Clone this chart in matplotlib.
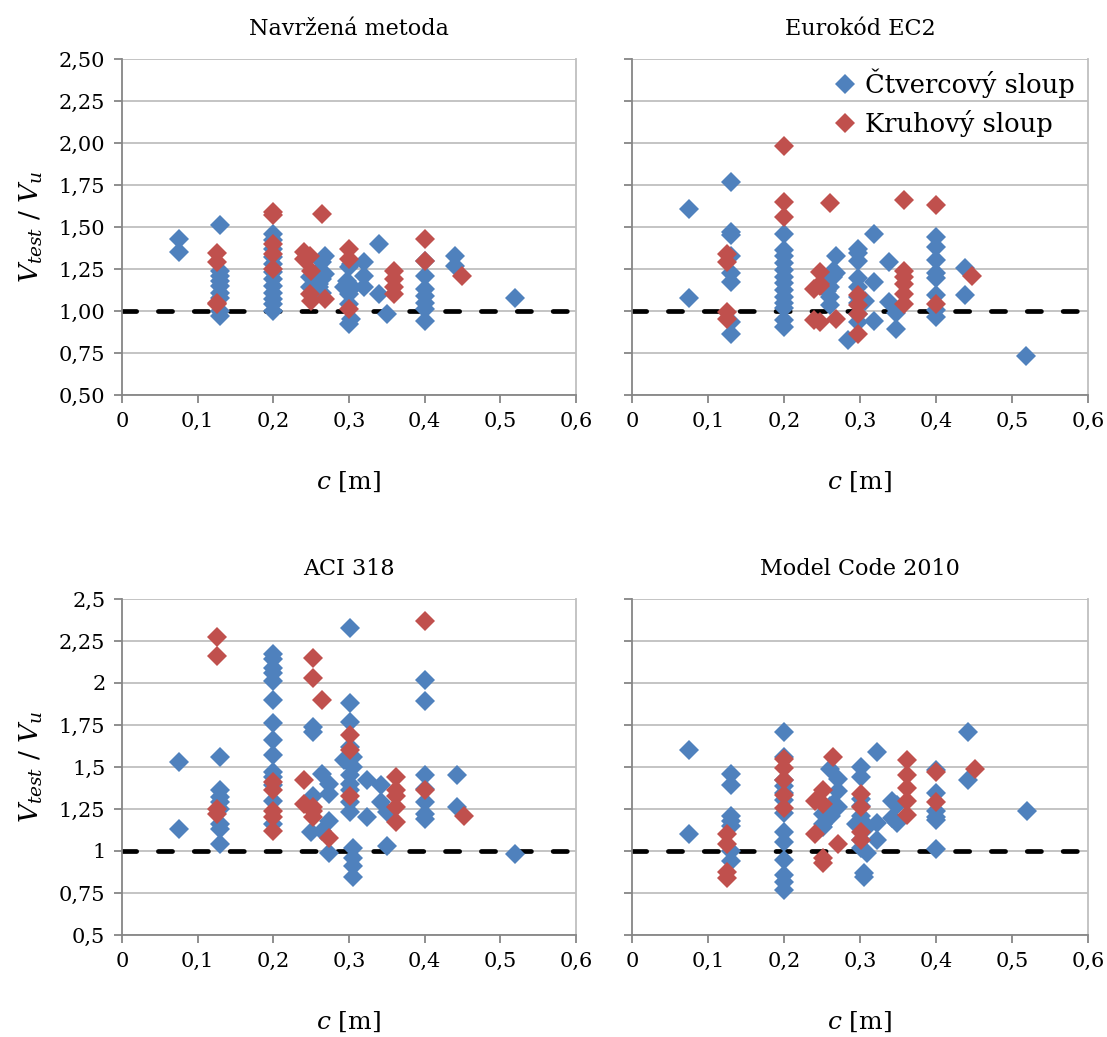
import numpy as np
import matplotlib.pyplot as plt
from matplotlib.ticker import FixedLocator, FuncFormatter

plt.rcParams['font.family'] = ['DejaVu Serif']
plt.rcParams['mathtext.fontset'] = 'dejavuserif'

titles = ['Navržená metoda', 'Eurokód EC2', 'ACI 318', 'Model Code 2010']
legend_labels = ['Čtvercový sloup', 'Kruhový sloup']

# (c [m], Vtest/Vu) - ctvercove sloupy (blue), kruhove sloupy (red)
sq_navr = [(0.075, 1.43), (0.075, 1.35),
           (0.13, 1.51), (0.13, 1.24), (0.13, 1.21), (0.13, 1.18), (0.13, 1.15), (0.13, 1.11),
           (0.13, 1.08), (0.13, 1.00), (0.13, 0.97),
           (0.2, 1.46), (0.2, 1.42), (0.2, 1.37), (0.2, 1.32), (0.2, 1.28), (0.2, 1.23),
           (0.2, 1.19), (0.2, 1.15), (0.2, 1.11), (0.2, 1.07), (0.2, 1.04), (0.2, 1.00),
           (0.248, 1.20), (0.248, 1.14), (0.26, 1.24), (0.26, 1.14), (0.26, 1.16),
           (0.264, 1.29), (0.264, 1.11), (0.265, 1.19), (0.268, 1.33), (0.268, 1.22),
           (0.294, 1.14), (0.298, 1.18), (0.3, 1.26), (0.3, 1.10), (0.3, 1.04), (0.3, 1.16),
           (0.3, 1.12), (0.3, 0.92), (0.303, 0.95), (0.303, 1.28),
           (0.32, 1.29), (0.32, 1.21), (0.32, 1.14), (0.34, 1.40), (0.34, 1.10), (0.35, 0.98),
           (0.4, 1.30), (0.4, 1.21), (0.4, 1.13), (0.4, 1.09), (0.4, 1.05), (0.4, 1.01), (0.4, 0.94),
           (0.44, 1.33), (0.44, 1.27), (0.52, 1.08)]
kr_navr = [(0.125, 1.345), (0.125, 1.29), (0.125, 1.05), (0.125, 1.04),
           (0.2, 1.59), (0.2, 1.57), (0.2, 1.40), (0.2, 1.34), (0.2, 1.25),
           (0.24, 1.35), (0.24, 1.31), (0.248, 1.33), (0.248, 1.10), (0.25, 1.24), (0.25, 1.06),
           (0.264, 1.58), (0.268, 1.07), (0.3, 1.37), (0.3, 1.31), (0.3, 1.01),
           (0.36, 1.24), (0.36, 1.19), (0.36, 1.14), (0.36, 1.10),
           (0.4, 1.43), (0.4, 1.30), (0.45, 1.21)]

sq_ec2 = [(0.075, 1.61), (0.075, 1.08),
          (0.13, 1.77), (0.13, 1.47), (0.13, 1.45), (0.13, 1.33), (0.13, 1.225), (0.13, 1.175),
          (0.13, 0.935), (0.13, 0.865),
          (0.2, 1.46), (0.2, 1.365), (0.2, 1.325), (0.2, 1.285), (0.2, 1.245), (0.2, 1.205),
          (0.2, 1.165), (0.2, 1.125), (0.2, 1.085), (0.2, 1.045), (0.2, 1.015), (0.2, 0.945),
          (0.2, 0.905),
          (0.257, 1.12), (0.257, 1.195), (0.26, 1.145), (0.26, 1.085), (0.26, 1.035),
          (0.265, 1.24), (0.265, 1.20), (0.269, 1.33), (0.269, 1.225), (0.284, 0.83),
          (0.298, 1.37), (0.298, 1.345), (0.298, 1.295), (0.298, 1.195), (0.298, 1.145),
          (0.298, 1.085), (0.298, 1.045), (0.298, 0.985), (0.298, 0.935), (0.306, 1.06),
          (0.318, 1.46), (0.318, 1.17), (0.318, 0.94), (0.338, 1.29), (0.338, 1.056),
          (0.348, 0.99), (0.348, 0.89),
          (0.4, 1.44), (0.4, 1.38), (0.4, 1.305), (0.4, 1.225), (0.4, 1.195), (0.4, 1.095),
          (0.4, 1.005), (0.4, 0.965), (0.438, 1.255), (0.438, 1.095), (0.518, 0.73)]
kr_ec2 = [(0.125, 1.34), (0.125, 1.29), (0.125, 0.995), (0.125, 0.955),
          (0.2, 1.98), (0.2, 1.65), (0.2, 1.56),
          (0.239, 1.13), (0.239, 0.944), (0.247, 1.23), (0.247, 1.15), (0.248, 0.934),
          (0.248, 1.16), (0.261, 1.64), (0.269, 0.954),
          (0.298, 1.093), (0.298, 1.034), (0.298, 0.984), (0.298, 0.865),
          (0.358, 1.66), (0.358, 1.24), (0.358, 1.20), (0.358, 1.16), (0.358, 1.10), (0.358, 1.04),
          (0.4, 1.63), (0.4, 1.04), (0.448, 1.21)]

sq_aci = [(0.075, 1.53), (0.075, 1.13),
          (0.13, 1.56), (0.13, 1.36), (0.13, 1.32), (0.13, 1.29), (0.13, 1.25), (0.13, 1.16),
          (0.13, 1.13), (0.13, 1.04),
          (0.2, 2.17), (0.2, 2.14), (0.2, 2.09), (0.2, 2.06), (0.2, 2.01), (0.2, 1.90),
          (0.2, 1.76), (0.2, 1.66), (0.2, 1.57), (0.2, 1.47), (0.2, 1.44), (0.2, 1.39),
          (0.2, 1.30), (0.2, 1.16),
          (0.25, 1.11), (0.252, 1.74), (0.252, 1.71), (0.252, 1.33), (0.264, 1.46), (0.264, 1.12),
          (0.273, 1.40), (0.273, 1.34), (0.273, 1.18), (0.273, 0.99), (0.293, 1.54),
          (0.301, 2.33), (0.301, 1.88), (0.301, 1.77), (0.301, 1.62), (0.301, 1.45),
          (0.301, 1.40), (0.301, 1.36), (0.301, 1.29), (0.301, 1.23),
          (0.305, 1.56), (0.305, 1.50), (0.305, 1.02), (0.305, 0.96), (0.305, 0.91), (0.305, 0.845),
          (0.3235, 1.42), (0.3235, 1.20), (0.342, 1.39), (0.342, 1.29), (0.35, 1.23), (0.35, 1.03),
          (0.4, 2.02), (0.4, 1.89), (0.4, 1.45), (0.4, 1.37), (0.4, 1.29), (0.4, 1.22), (0.4, 1.19),
          (0.4425, 1.45), (0.4425, 1.26), (0.52, 0.98)]
kr_aci = [(0.126, 2.275), (0.126, 2.16), (0.126, 1.25), (0.126, 1.22),
          (0.2, 1.41), (0.2, 1.36), (0.2, 1.24), (0.2, 1.20), (0.2, 1.12),
          (0.24, 1.42), (0.24, 1.28), (0.252, 2.15), (0.252, 2.03), (0.252, 1.24), (0.252, 1.20),
          (0.252, 1.26), (0.264, 1.90), (0.273, 1.08),
          (0.301, 1.69), (0.301, 1.60), (0.301, 1.33),
          (0.362, 1.44), (0.362, 1.36), (0.362, 1.33), (0.362, 1.26), (0.362, 1.17),
          (0.4, 2.37), (0.4, 1.36), (0.452, 1.21)]

sq_mc = [(0.075, 1.60), (0.075, 1.10),
         (0.13, 1.46), (0.13, 1.39), (0.13, 1.21), (0.13, 1.18), (0.13, 1.15), (0.13, 1.00),
         (0.13, 0.94),
         (0.2, 1.71), (0.2, 1.56), (0.2, 1.42), (0.2, 1.385), (0.2, 1.345), (0.2, 1.305),
         (0.2, 1.225), (0.2, 1.115), (0.2, 1.055), (0.2, 0.945), (0.2, 0.855), (0.2, 0.815),
         (0.2, 0.765),
         (0.252, 1.22), (0.252, 1.16), (0.252, 1.14), (0.26, 1.49), (0.26, 1.265), (0.262, 1.21),
         (0.265, 1.28), (0.2715, 1.43), (0.2715, 1.355), (0.2715, 1.26), (0.295, 1.16),
         (0.302, 1.50), (0.302, 1.44), (0.302, 1.31), (0.302, 1.21), (0.302, 1.265),
         (0.302, 1.185), (0.302, 1.145), (0.302, 1.065), (0.302, 1.015),
         (0.305, 0.87), (0.305, 0.845), (0.309, 1.14), (0.309, 0.99),
         (0.322, 1.59), (0.322, 1.165), (0.322, 1.065), (0.342, 1.30), (0.342, 1.195),
         (0.349, 1.275), (0.349, 1.165),
         (0.4, 1.48), (0.4, 1.345), (0.4, 1.235), (0.4, 1.205), (0.4, 1.185), (0.4, 1.01),
         (0.442, 1.71), (0.442, 1.42), (0.52, 1.24)]
kr_mc = [(0.125, 1.10), (0.125, 1.04), (0.125, 0.877), (0.125, 0.837),
         (0.2, 1.545), (0.2, 1.495), (0.2, 1.425), (0.2, 1.335), (0.2, 1.255),
         (0.241, 1.30), (0.241, 1.10), (0.252, 1.36), (0.252, 1.28), (0.252, 0.96), (0.252, 0.93),
         (0.265, 1.56), (0.2715, 1.044),
         (0.302, 1.34), (0.302, 1.26), (0.302, 1.11), (0.302, 1.064),
         (0.3615, 1.54), (0.3615, 1.45), (0.3615, 1.375), (0.3615, 1.295), (0.3615, 1.215),
         (0.4, 1.47), (0.4, 1.29), (0.452, 1.49)]

square_sets = [sq_navr, sq_ec2, sq_aci, sq_mc]
round_sets = [kr_navr, kr_ec2, kr_aci, kr_mc]

blue = '#4F81BD'
red = '#C0504D'
grid_c = '#BFBFBF'
axis_c = '#868686'

fig = plt.figure(figsize=(11.07, 10.37), dpi=100)
positions = [(0.1102, 0.6191, 0.4101, 0.324), (0.5709, 0.6191, 0.4119, 0.324),
             (0.1102, 0.0984, 0.4101, 0.324), (0.5709, 0.0984, 0.4119, 0.324)]


def fmt_comma(decimals):
    def f(v, pos):
        s = ('%.' + str(decimals) + 'f') % v
        return s.replace('.', ',')
    return f


def fmt_short(v, pos):
    s = ('%.2f' % v).rstrip('0').rstrip('.')
    return s.replace('.', ',')


for i in range(4):
    ax = fig.add_axes(positions[i])
    sq = np.array(square_sets[i])
    kr = np.array(round_sets[i])
    ax.plot([0, 0.6], [1, 1], color='black', lw=3.4, dashes=(3.0, 4.6),
            dash_capstyle='round', zorder=2)
    ax.plot(sq[:, 0], sq[:, 1], 'D', color=blue, ms=10, mew=0, label=legend_labels[0], zorder=3)
    ax.plot(kr[:, 0], kr[:, 1], 'D', color=red, ms=10, mew=0, label=legend_labels[1], zorder=4)

    ax.set_xlim(0, 0.6)
    ax.set_ylim(0.5, 2.5)
    ax.xaxis.set_major_locator(FixedLocator(np.arange(0, 0.61, 0.1)))
    ax.yaxis.set_major_locator(FixedLocator(np.arange(0.5, 2.51, 0.25)))
    ax.xaxis.set_major_formatter(FuncFormatter(lambda v, p: '0' if abs(v) < 1e-9 else ('%.1f' % v).replace('.', ',')))
    if i < 2:
        ax.yaxis.set_major_formatter(FuncFormatter(fmt_comma(2)))
    else:
        ax.yaxis.set_major_formatter(FuncFormatter(fmt_short))
    if i % 2 == 1:
        ax.tick_params(axis='y', labelleft=False)
    else:
        ax.set_ylabel('$V_{test}$ / $V_u$', fontsize=19, labelpad=10)

    ax.grid(axis='y', color=grid_c, lw=1.3, zorder=0)
    ax.set_axisbelow(True)
    for side in ['left', 'bottom', 'right']:
        ax.spines[side].set_color(axis_c)
        ax.spines[side].set_linewidth(1.3)
    ax.spines['top'].set_visible(False)
    ax.spines['right'].set_color(grid_c)
    ax.tick_params(axis='both', direction='out', length=6, width=1.3, color=axis_c,
                   labelsize=15, pad=6)
    ax.set_title(titles[i], fontsize=16, pad=17)
    ax.set_xlabel('$c$ [m]', fontsize=18, labelpad=28)

    if i == 1:
        ax.legend(loc='upper right', frameon=False, fontsize=18.5, handletextpad=0.1,
                  borderaxespad=0.1, labelspacing=0.45, handlelength=1.4,
                  bbox_to_anchor=(1.0, 1.01))

fig.savefig('out.png', dpi=100)
